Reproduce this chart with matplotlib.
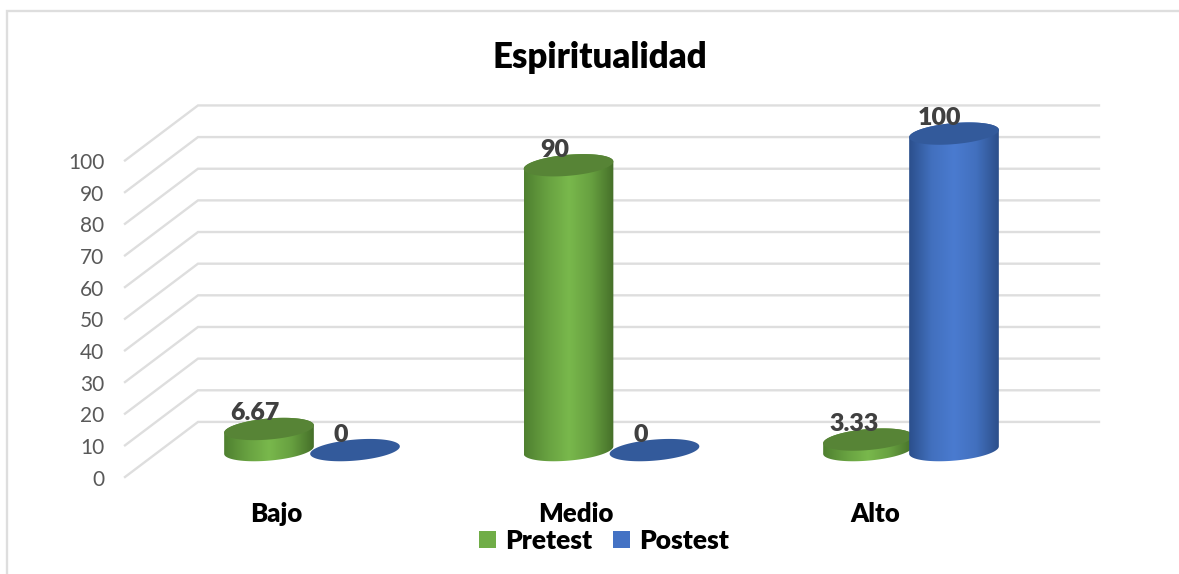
import numpy as np
import matplotlib
matplotlib.use("Agg")
import matplotlib.pyplot as plt
from matplotlib.colors import LinearSegmentedColormap
from matplotlib.lines import Line2D
from matplotlib.patches import Patch, Polygon
from matplotlib.transforms import ScaledTranslation

plt.rcParams['font.family'] = ['Lato', 'DejaVu Sans']

categories = ['Bajo', 'Medio', 'Alto']
pretest = [6.67, 90, 3.33]
postest = [0, 0, 100]
pretest_labels = ['6.67', '90', '3.33']
postest_labels = ['0', '0', '100']
y_ticks = [0, 10, 20, 30, 40, 50, 60, 70, 80, 90, 100]

W, H = 1179, 574
PX_X = 299.5   # pixels per category
PX_Y = 3.165   # pixels per value unit
FLOOR = 8.5    # bars stand this far up the fake floor
BACK = 17.4    # back wall shift of the grid
DEPTH = 73 / PX_X
A, B = 45, 10.5  # ellipse half axes in px
TILT = np.radians(5)
HEAVY = 800

green_cmap = LinearSegmentedColormap.from_list("g", ["#4f8030", "#67a040", "#79b84c", "#67a040", "#456f29"])
blue_cmap = LinearSegmentedColormap.from_list("b", ["#2b4f8c", "#4270be", "#4a7bd0", "#4270be", "#2c4f8a"])
green_top = "#578436"
blue_top = "#335a9b"

fig = plt.figure(figsize=(W / 100, H / 100), dpi=100)
ax = fig.add_axes([125 / W, (H - 477) / H, (1099 - 125) / W, (477 - 100) / H])
xlim = (-151 / PX_X, 823 / PX_X)
ylim = (0, 377 / PX_Y)


def ellipse_xy(cx, cy, t):
    dx = A * np.cos(t) * np.cos(TILT) - B * np.sin(t) * np.sin(TILT)
    dy = A * np.cos(t) * np.sin(TILT) + B * np.sin(t) * np.cos(TILT)
    return cx + dx / PX_X, cy + dy / PX_Y


def cylinder(cx, value, cmap, top_color, z):
    base = FLOOR
    top = FLOOR + value
    t0 = np.arctan2(-B * np.sin(TILT), A * np.cos(TILT))
    t_low = np.linspace(t0 + np.pi, t0 + 2 * np.pi, 60)
    t_up = np.linspace(t0, t0 + np.pi, 60)
    xb, yb = ellipse_xy(cx, base, t_low)
    xt, yt = ellipse_xy(cx, top, t_up)
    verts = np.column_stack([np.r_[xb, xt], np.r_[yb, yt]])
    if value > 0:
        body = Polygon(verts, closed=True, transform=ax.transData, fc='none', ec='none')
        ax.add_patch(body)
        im = ax.imshow(np.linspace(0, 1, 256).reshape(1, -1), cmap=cmap, aspect='auto',
                       extent=(verts[:, 0].min(), verts[:, 0].max(), base - 5, top + 5),
                       zorder=z, interpolation='bilinear')
        im.set_clip_path(body)
    t = np.linspace(0, 2 * np.pi, 120)
    xc, yc = ellipse_xy(cx, top, t)
    ax.fill(xc, yc, color=top_color, lw=0, zorder=z + 0.1)


# grid: wall lines plus the diagonal floor/side lines
for v in y_ticks:
    ax.plot([xlim[0], xlim[0] + DEPTH, xlim[1]], [v, v + BACK, v + BACK],
            color='#dedede', lw=1.7, zorder=1, clip_on=False, solid_joinstyle='miter')

off_pre = -7 / PX_X
off_post = 79 / PX_X
for i in range(len(categories)):
    cylinder(i + off_pre, pretest[i], green_cmap, green_top, 2 + i)
    cylinder(i + off_post, postest[i], blue_cmap, blue_top, 2.5 + i)
    ax.annotate(pretest_labels[i], (i + off_pre, FLOOR + pretest[i]),
                xytext=(-14 * 0.72, 15.5 * 0.72), textcoords='offset points',
                ha='center', va='center', fontsize=18, fontweight=HEAVY,
                color='#404040', zorder=10)
    ax.annotate(postest_labels[i], (i + off_post, FLOOR + postest[i]),
                xytext=(-14 * 0.72, 15.5 * 0.72), textcoords='offset points',
                ha='center', va='center', fontsize=18, fontweight=HEAVY,
                color='#404040', zorder=10)

ax.set_xlim(xlim)
ax.set_ylim(ylim)
ax.set_xticks(range(len(categories)))
ax.set_xticklabels(categories, fontsize=18.5, fontweight=HEAVY, color='black')
ax.set_yticks(y_ticks)
ax.set_yticklabels([str(v) for v in y_ticks], fontsize=15, color='#595959')
ax.tick_params(axis='x', length=0, pad=18)
ax.tick_params(axis='y', length=0, pad=15)
for lab in ax.get_yticklabels():
    lab.set_transform(lab.get_transform() + ScaledTranslation(0, -0.7 / 100, fig.dpi_scale_trans))
ax.patch.set_visible(False)
for s in ax.spines.values():
    s.set_visible(False)

fig.text(600 / W, 1 - 57 / H, 'Espiritualidad', ha='center', va='center',
         fontsize=25, fontweight=HEAVY, color='black')

handles = [Patch(fc='#70ad47', ec='none'), Patch(fc='#4472c4', ec='none')]
fig.legend(handles, ['Pretest', 'Postest'], loc='center', bbox_to_anchor=(604 / W, 1 - 541 / H),
           ncol=2, frameon=False, handlelength=0.64, handleheight=0.64, handletextpad=0.35,
           columnspacing=0.8, prop={'size': 19, 'weight': HEAVY}, labelcolor='black')

# chart border, only top and left show in the crop
fig.add_artist(Line2D([6.5 / W, 6.5 / W, 1179 / W], [0, 1 - 10.5 / H, 1 - 10.5 / H],
                      color='#dedede', lw=1.7, solid_joinstyle='miter'))

fig.savefig('out.png', dpi=100)
